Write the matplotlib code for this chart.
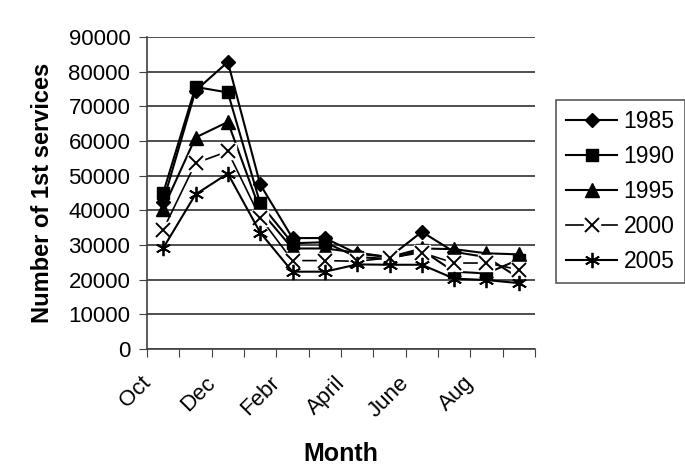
import matplotlib
matplotlib.use("Agg")
import matplotlib.pyplot as plt
from matplotlib.legend_handler import HandlerTuple

plt.rcParams['font.family'] = ['Liberation Sans', 'DejaVu Sans']

months = ["Oct", "Nov", "Dec", "Jan", "Febr", "Mar", "April", "May", "June", "Jul", "Aug", "Sep"]
shown_labels = ["Oct", "Dec", "Febr", "April", "June", "Aug"]
years = ["1985", "1990", "1995", "2000", "2005"]

s1985 = [42500, 74500, 82800, 47500, 32000, 32000, 27500, 26500, 33800, 28000, 26500, 20500]
s1990 = [45000, 75600, 74000, 42000, 30500, 30800, 26500, 26000, 28500, 22300, 21800, 25800]
s1995 = [40500, 61000, 65500, 40000, 29000, 29000, 27800, 26500, 29000, 28800, 27600, 27300]
s2000 = [34400, 53600, 57000, 37900, 25500, 25500, 25300, 26300, 27800, 24800, 24800, 22900]
s2005 = [29100, 44600, 50600, 33600, 22300, 22300, 24400, 24300, 24300, 20300, 19900, 19000]

yticks = list(range(0, 90001, 10000))

fig = plt.figure(figsize=(6.85, 4.74), dpi=100)
ax = fig.add_axes([147/685, 1-349/474, (535-147)/685, (349-37)/474])

x = list(range(len(months)))
lw = 1.5
h1, = ax.plot(x, s1985, color='black', lw=lw, marker='D', ms=7.5, zorder=3)
h2, = ax.plot(x, s1990, color='black', lw=lw, marker='s', ms=8.5, zorder=3)
h3, = ax.plot(x, s1995, color='black', lw=lw, marker='^', ms=9.5, zorder=3)
h4, = ax.plot(x, s2000, color='black', lw=1.2, zorder=4)
w4, = ax.plot(x, s2000, ls='none', marker='s', ms=11, mfc='white', mec='white', zorder=4.1)
m4, = ax.plot(x, s2000, ls='none', marker='x', ms=10, mew=1.4, color='black', zorder=4.2)
h5, = ax.plot(x, s2005, color='black', lw=lw, marker=(6, 2, 0), ms=11, mew=1.3, zorder=5)

ax.set_yticks(yticks)
ax.set_yticklabels([str(v) for v in yticks], fontsize=16)
ax.grid(axis='y', color='#303030', lw=1.2)
ax.set_axisbelow(True)

ax.set_xticks([i - 0.5 for i in range(len(months) + 1)])
ax.set_xticklabels([])
label_offset = 0.48  # labels sit left of category centre, as in the original
lab_pos = [months.index(m) - label_offset for m in shown_labels]
ax.set_xticks(lab_pos, minor=True)
ax.set_xticklabels(shown_labels, minor=True, rotation=45, ha='right', va='center',
                   rotation_mode='anchor', fontsize=16)
ax.tick_params(axis='x', which='major', direction='out', length=6, color='#404040')
ax.tick_params(axis='x', which='minor', length=0, pad=22)
ax.tick_params(axis='y', direction='out', length=6, color='#404040', pad=6)
ax.set_xlim(-0.5, len(months) - 0.5)
ax.set_ylim(0, 90000)

for s in ['top', 'right']:
    ax.spines[s].set_visible(False)
for s in ['left', 'bottom']:
    ax.spines[s].set_color('#404040')
    ax.spines[s].set_linewidth(1.2)

ax.set_ylabel("Number of 1st services", fontsize=17, fontweight='bold', labelpad=10)
ax.set_xlabel("Month", fontsize=18, fontweight='bold', labelpad=15)

leg = fig.legend([h1, h2, h3, (h4, w4, m4), h5], years,
                 loc='center left', bbox_to_anchor=(556/685, 1-191.5/474),
                 handler_map={tuple: HandlerTuple(ndivide=1, pad=0)},
                 fontsize=16.5, frameon=True, fancybox=False, edgecolor='#303030',
                 handlelength=2.2, handletextpad=0.3, labelspacing=0.52,
                 borderpad=0.45, borderaxespad=0)
leg.get_frame().set_linewidth(1.2)

fig.savefig("out.png", dpi=100)
